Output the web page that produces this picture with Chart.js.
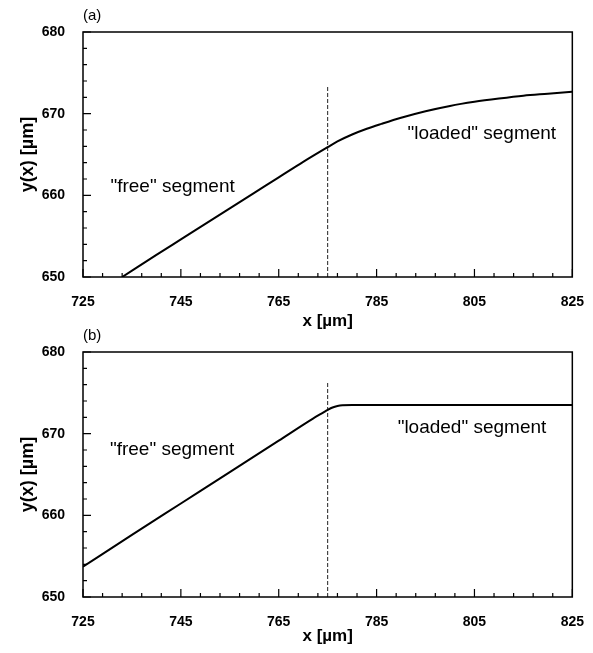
<!DOCTYPE html>
<html><head><meta charset="utf-8">
<script src="https://cdn.jsdelivr.net/npm/chart.js@4"></script>
<style>
html,body{margin:0;padding:0;background:#fff;}
#wrap{position:relative;width:593px;height:653px;overflow:hidden;}
canvas{position:absolute;left:0;}
</style></head><body>
<div id="wrap">
<canvas id="ca" width="593" height="335" style="top:0px"></canvas>
<canvas id="cb" width="593" height="328" style="top:325px"></canvas>
</div>
<script>
// ---- data ----
const xTickLabels = [725, 745, 765, 785, 805, 825];
const yTickLabels = [650, 660, 670, 680];
const xMinorStep = 4;
const yMinorStep = 2;

// panel (a)
const xA = [733, 740, 745, 750, 755, 760, 765, 770, 775, 777, 780, 783, 786, 790, 795, 800, 805, 810, 815, 820, 825];
const yA = [650.0, 652.7, 654.6, 656.5, 658.4, 660.3, 662.2, 664.1, 665.9, 666.6, 667.45, 668.15, 668.75, 669.5, 670.3, 670.95, 671.45, 671.85, 672.2, 672.45, 672.7];
const dashAx = [775, 775];
const dashAy = [650, 673.3];

// panel (b)
const xB = [725, 735, 745, 755, 765, 772, 774, 775, 776, 777, 778, 780, 785, 795, 805, 815, 825];
const yB = [653.7, 657.6, 661.45, 665.3, 669.15, 671.85, 672.55, 672.9, 673.2, 673.38, 673.47, 673.5, 673.5, 673.5, 673.5, 673.5, 673.5];
const dashBx = [775, 775];
const dashBy = [650, 676.3];

const noteTexts = ['"free" segment', '"loaded" segment'];
const notesA = [{x: 730.6, y: 661.0}, {x: 791.3, y: 667.6}];
const notesB = [{x: 730.5, y: 668.0}, {x: 789.3, y: 670.7}];

const FONT = '"Liberation Sans", Arial, Helvetica, sans-serif';

const framePlugin = {
  id: 'frame',
  afterDraw(chart, args, opts) {
    const {ctx, chartArea: a, scales: {x, y}} = chart;
    ctx.save();
    ctx.strokeStyle = '#000';
    ctx.lineWidth = 1.5;
    ctx.strokeRect(a.left, a.top, a.right - a.left, a.bottom - a.top);
    ctx.lineWidth = 1.2;
    ctx.beginPath();
    for (let v = x.min; v <= x.max + 1e-9; v += xMinorStep) {
      const px = x.getPixelForValue(v);
      const len = xTickLabels.includes(v) ? 8 : 4;
      ctx.moveTo(px, a.bottom); ctx.lineTo(px, a.bottom - len);
    }
    for (let v = y.min; v <= y.max + 1e-9; v += yMinorStep) {
      const py = y.getPixelForValue(v);
      const len = yTickLabels.includes(v) ? 8 : 4;
      ctx.moveTo(a.left, py); ctx.lineTo(a.left + len, py);
    }
    ctx.stroke();
    ctx.fillStyle = '#000';
    ctx.font = '19px ' + FONT;
    ctx.textAlign = 'left';
    ctx.textBaseline = 'middle';
    opts.notes.forEach((n, i) => ctx.fillText(noteTexts[i], x.getPixelForValue(n.x), y.getPixelForValue(n.y)));
    ctx.font = '15px ' + FONT;
    ctx.textBaseline = 'alphabetic';
    ctx.fillText(opts.panel, a.left, a.top - 12);
    ctx.restore();
  }
};

function makeChart(id, xs, ys, dx, dy, notes, panel, cfg) {
  const pts = xs.map((v, i) => ({x: v, y: ys[i]}));
  const dpts = dx.map((v, i) => ({x: v, y: dy[i]}));
  return new Chart(document.getElementById(id), {
    type: 'line',
    data: {
      datasets: [
        {data: pts, borderColor: '#000', borderWidth: 2, pointRadius: 0, fill: false, cubicInterpolationMode: 'monotone'},
        {data: dpts, borderColor: '#222', borderWidth: 1, borderDash: [4, 2], pointRadius: 0, fill: false}
      ]
    },
    options: {
      responsive: false,
      animation: false,
      devicePixelRatio: 1,
      events: [],
      layout: {padding: {left: 0, right: cfg.right, top: cfg.top, bottom: 0}},
      plugins: {legend: {display: false}, tooltip: {enabled: false}, frame: {notes: notes, panel: panel}},
      scales: {
        x: {
          type: 'linear', min: 725, max: 825,
          grid: {display: false}, border: {display: false},
          afterBuildTicks: s => { s.ticks = xTickLabels.map(v => ({value: v})); },
          afterFit: s => { s.height = cfg.xh; },
          ticks: {color: '#000', padding: 9, maxRotation: 0, font: {family: FONT, size: 14, weight: 'bold'}},
          title: {display: true, text: 'x [µm]', color: '#000', padding: {top: 0, bottom: cfg.tpad},
                  font: {family: FONT, size: 17, weight: 'bold', lineHeight: 1}}
        },
        y: {
          type: 'linear', min: 650, max: 680,
          grid: {display: false}, border: {display: false},
          afterBuildTicks: s => { s.ticks = yTickLabels.map(v => ({value: v})); },
          afterFit: s => { s.width = 83; },
          ticks: {color: '#000', padding: 10, font: {family: FONT, size: 14, weight: 'bold'}},
          title: {display: true, text: 'y(x) [µm]', color: '#000', padding: {top: 19, bottom: 0},
                  font: {family: FONT, size: 18, weight: 'bold', lineHeight: 1}}
        }
      }
    },
    plugins: [framePlugin]
  });
}

makeChart('ca', xA, yA, dashAx, dashAy, notesA, '(a)', {right: 20, top: 32, xh: 58, tpad: 5});
makeChart('cb', xB, yB, dashBx, dashBy, notesB, '(b)', {right: 18, top: 27, xh: 56, tpad: 8});
</script>
</body></html>
